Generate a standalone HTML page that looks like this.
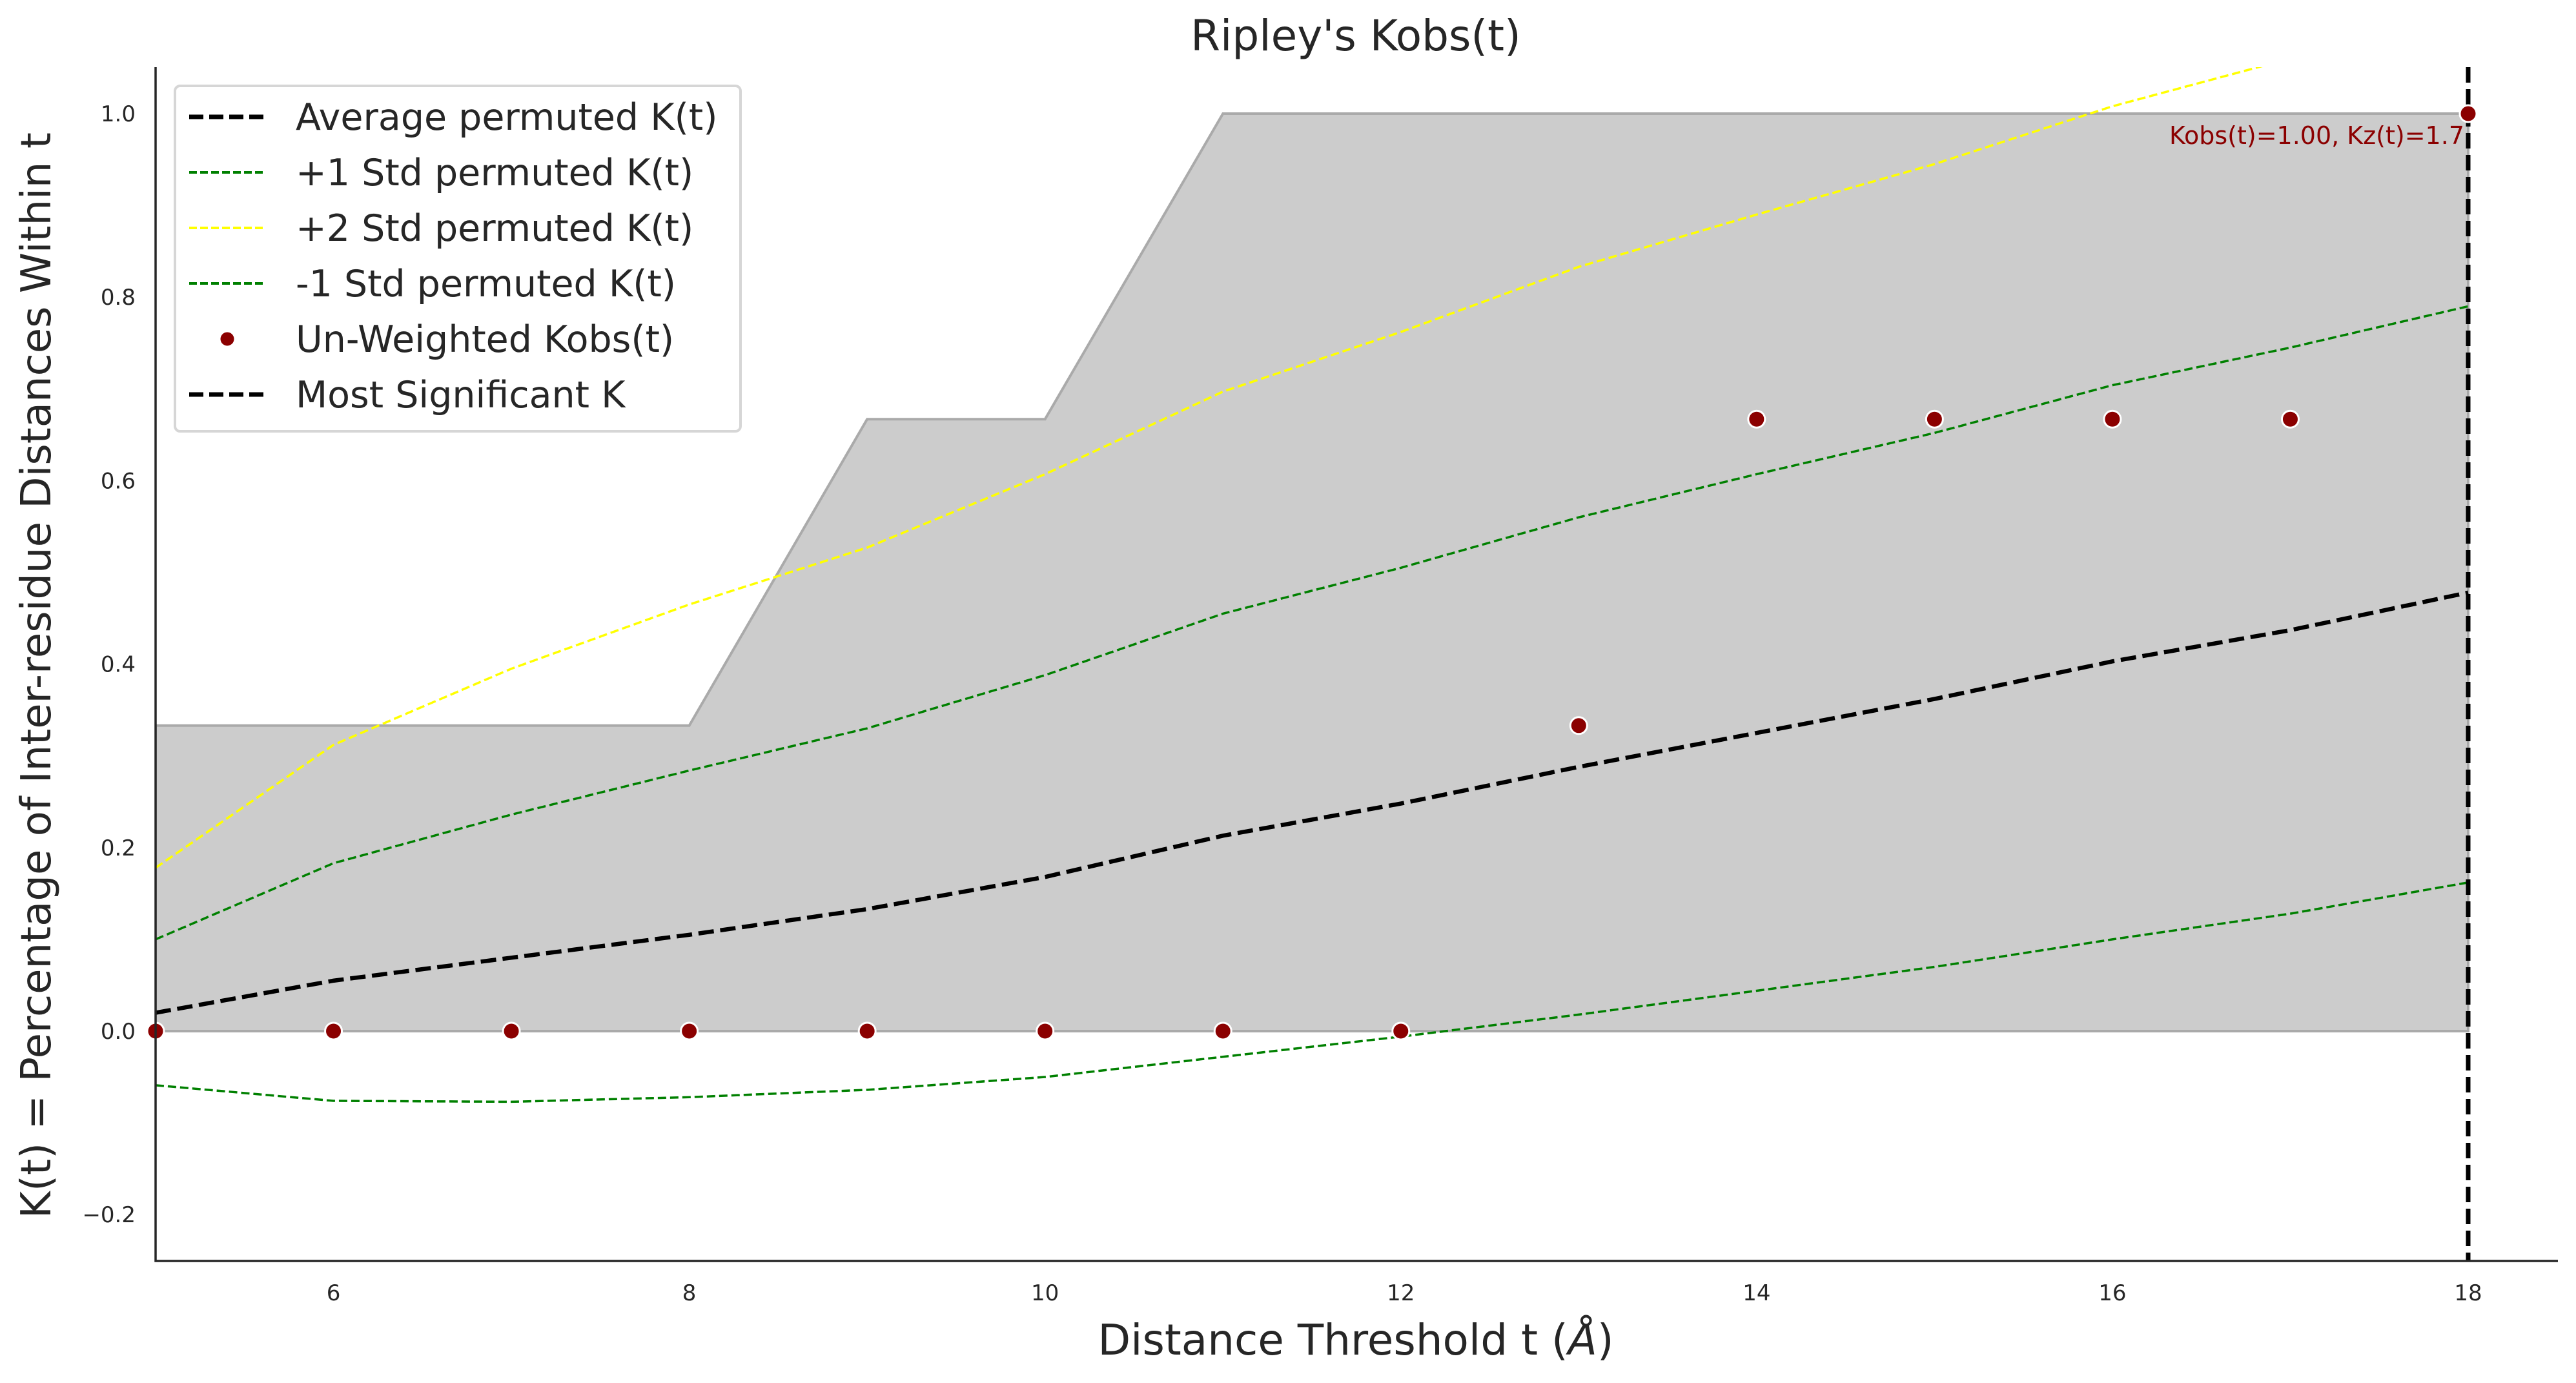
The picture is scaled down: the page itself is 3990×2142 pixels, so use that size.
<!DOCTYPE html>
<html><head><meta charset="utf-8"><style>
html,body{margin:0;padding:0;background:#fff;}
svg{display:block;font-family:"DejaVu Sans","Liberation Sans",sans-serif;}
</style></head><body>
<svg id="chart" width="3990" height="2142" viewBox="0 0 3990 2142" xmlns="http://www.w3.org/2000/svg">
<rect width="3990" height="2142" fill="#fff"/>
<text x="2100" y="78" font-size="66" text-anchor="middle" fill="#262626">Ripley's Kobs(t)</text>
<text x="2100" y="2098" font-size="66" text-anchor="middle" fill="#262626">Distance Threshold t (<tspan font-style="italic">Å</tspan>)</text>
<text transform="translate(78,1046) rotate(-90)" font-size="64" text-anchor="middle" fill="#262626">K(t) = Percentage of Inter-residue Distances Within t</text>
<g id="plot"></g>
<g id="legend"></g>
</svg>
<script>
const tValues=[5,6,7,8,9,10,11,12,13,14,15,16,17,18];
const avgK=[0.02,0.055,0.08,0.105,0.133,0.168,0.213,0.248,0.288,0.325,0.362,0.403,0.437,0.478];
const plus1K=[0.1,0.183,0.236,0.284,0.33,0.388,0.455,0.505,0.56,0.607,0.652,0.704,0.745,0.79];
const plus2K=[0.178,0.312,0.395,0.465,0.527,0.607,0.697,0.762,0.833,0.89,0.945,1.008,1.06,1.11];
const minus1K=[-0.059,-0.076,-0.077,-0.072,-0.064,-0.05,-0.028,-0.006,0.018,0.044,0.07,0.1,0.128,0.162];
const kobs=[0,0,0,0,0,0,0,0,0.333,0.667,0.667,0.667,0.667,1.0];
const envelope=[0.333,0.333,0.333,0.333,0.667,0.667,1.0,1.0,1.0,1.0,1.0,1.0,1.0,1.0];
const xTicks=[6,8,10,12,14,16,18];
const yTicks=[-0.2,0,0.2,0.4,0.6,0.8,1.0];
const sigT=18;
const annotation="Kobs(t)=1.00, Kz(t)=1.7";

const L=241,R=3962,T=104,B=1953;
const xMin=5,xMax=18,yMin=-0.25,yMax=1.05;
const xUnit=(3823-241)/13;
function X(t){return L+(t-xMin)*xUnit;}
function Y(v){return 1597-v*1421;}
const NS="http://www.w3.org/2000/svg";
const plot=document.getElementById('plot');
function mk(tag,attrs,parent){const e=document.createElementNS(NS,tag);for(const k in attrs)e.setAttribute(k,attrs[k]);(parent||plot).appendChild(e);return e;}

const defs=mk('defs',{});
const cp=mk('clipPath',{id:'clip'},defs);
mk('rect',{x:L,y:T,width:R-L,height:B-T},cp);
const g=mk('g',{'clip-path':'url(#clip)'});

let d='M'+X(tValues[0])+','+Y(0);
tValues.forEach((t,i)=>{d+=' L'+X(t)+','+Y(envelope[i]);});
d+=' L'+X(tValues[tValues.length-1])+','+Y(0)+' Z';
const env=mk('path',{d:d,fill:'#cccccc',stroke:'#aaaaaa','stroke-width':4},g);



function line(vals,color,w,dash,name){
  const p=mk('path',{d:tValues.map((t,i)=>(i?'L':'M')+X(t)+','+Y(vals[i])).join(' '),fill:'none',stroke:color,'stroke-width':w,'stroke-dasharray':dash},g);
  
  
}
line(minus1K,'#008000',3.5,'13,6','minus1-std-line');
line(plus1K,'#008000',3.5,'13,6','plus1-std-line');
line(plus2K,'#ffff00',3.5,'13,6','plus2-std-line');
line(avgK,'#000000',6.5,'24,10','average-permuted-line');

const vl=mk('line',{x1:X(sigT),x2:X(sigT),y1:T,y2:B,stroke:'#000','stroke-width':7,'stroke-dasharray':'24,10'});



tValues.forEach((t,i)=>{
  const c=mk('circle',{cx:X(t),cy:Y(kobs[i]),r:13,fill:'#8b0000',stroke:'#fff','stroke-width':3});
  
  
});

const an=mk('text',{x:X(sigT)-6,y:Y(1.0)+47,'font-size':38,'text-anchor':'end',fill:'#8b0000'});
an.textContent=annotation;



const ax=mk('path',{d:`M${L},${T} L${L},${B} L${R},${B}`,fill:'none',stroke:'#262626','stroke-width':3.5});


xTicks.forEach(t=>{
  const e=mk('text',{x:X(t),y:2014,'font-size':34,'text-anchor':'middle',fill:'#262626'});
  e.textContent=String(t);
  
  
});
yTicks.forEach(v=>{
  const e=mk('text',{x:210,y:Y(v)+12,'font-size':34,'text-anchor':'end',fill:'#262626'});
  e.textContent=(v<0?'\u2212':'')+Math.abs(v).toFixed(1);
  
  
});

const lg=document.getElementById('legend');
mk('rect',{x:271,y:133,width:876,height:535,rx:8,fill:'#fff',stroke:'#d6d6d6','stroke-width':4},lg);
const entries=[
 ['Average permuted K(t)','line','#000',7,'22,9'],
 ['+1 Std permuted K(t)','line','#008000',4,'12,5'],
 ['+2 Std permuted K(t)','line','#ffff00',4,'12,5'],
 ['-1 Std permuted K(t)','line','#008000',4,'12,5'],
 ['Un-Weighted Kobs(t)','dot'],
 ['Most Significant K','line','#000',7,'22,9']
];
entries.forEach((en,i)=>{
  const y=181+i*86;
  const eg=mk('g',{},lg);
  
  
  if(en[1]==='line') mk('line',{x1:293,x2:410,y1:y,y2:y,stroke:en[2],'stroke-width':en[3],'stroke-dasharray':en[4]},eg);
  else mk('circle',{cx:352,cy:y,r:12,fill:'#8b0000',stroke:'#fff','stroke-width':3},eg);
  const tx=mk('text',{x:458,y:y+20,'font-size':57,fill:'#262626'},eg);
  tx.textContent=en[0];
});
</script>
</body></html>
